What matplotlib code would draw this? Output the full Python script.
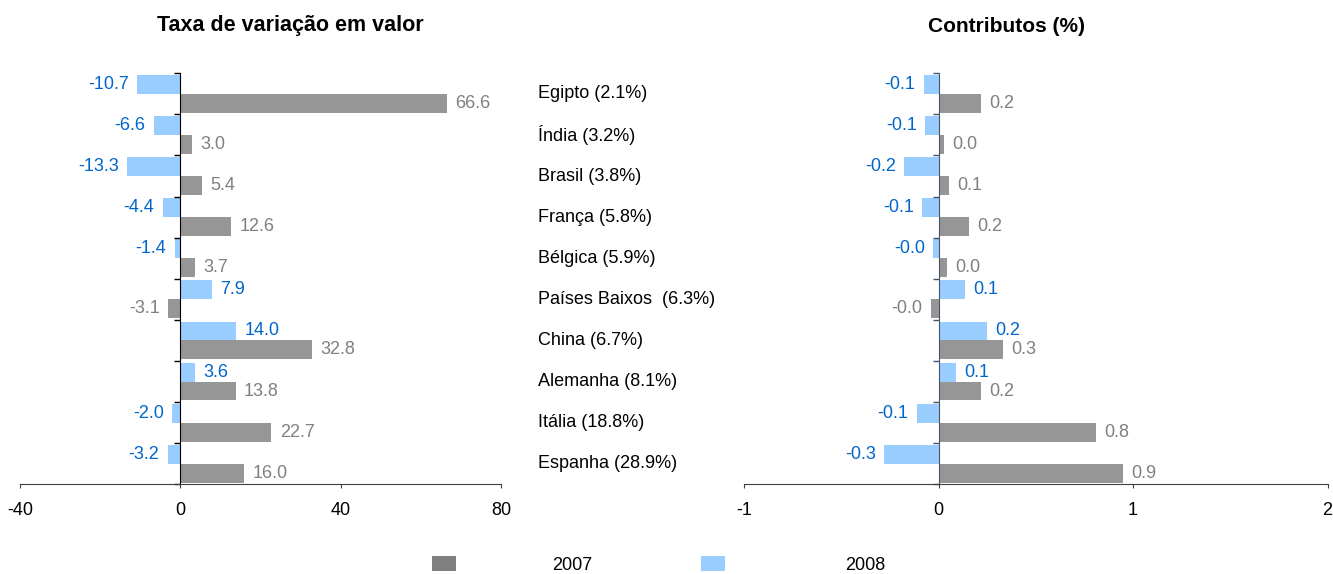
import numpy as np
import matplotlib
matplotlib.use("Agg")
import matplotlib.pyplot as plt
from matplotlib.transforms import blended_transform_factory

plt.rcParams['font.family'] = ['Liberation Sans', 'DejaVu Sans']

categories = ["Egipto (2.1%)", "Índia (3.2%)", "Brasil (3.8%)", "França (5.8%)",
              "Bélgica (5.9%)", "Países Baixos  (6.3%)", "China (6.7%)",
              "Alemanha (8.1%)", "Itália (18.8%)", "Espanha (28.9%)"]
taxa_2007 = [66.6, 3.0, 5.4, 12.6, 3.7, -3.1, 32.8, 13.8, 22.7, 16.0]
taxa_2008 = [-10.7, -6.6, -13.3, -4.4, -1.4, 7.9, 14.0, 3.6, -2.0, -3.2]
contrib_2007 = [0.22, 0.026, 0.056, 0.158, 0.045, -0.04, 0.333, 0.22, 0.81, 0.947]
contrib_2008 = [-0.077, -0.067, -0.175, -0.083, -0.027, 0.138, 0.247, 0.088, -0.113, -0.278]
left_ticks = [-40, 0, 40, 80]
right_ticks = [-1, 0, 1, 2]
series_names = ["2007", "2008"]

C07 = "#969696"
C08 = "#99CCFF"
T07 = "#808080"
T08 = "#0066CC"
FS = 13

W, H = 1333, 574
fig = plt.figure(figsize=(W / 100, H / 100), dpi=100)

bottom = (H - 484.3) / H
height = (484.3 - 73.3) / H
ax1 = fig.add_axes([20 / W, bottom, 481 / W, height])
ax2 = fig.add_axes([744.0 / W, bottom, 583.5 / W, height])

n = len(categories)
y = np.arange(n)
bh = 0.46


def draw(ax, v07, v08, xticks, spine_color):
    b07 = ax.barh(y + bh / 2, v07, height=bh, color=C07, label=series_names[0])
    b08 = ax.barh(y - bh / 2, v08, height=bh, color=C08, label=series_names[1])
    for bars, vals, col in ((b07, v07, T07), (b08, v08, T08)):
        for rect, v in zip(bars, vals):
            cy = rect.get_y() + rect.get_height() / 2
            if v >= 0:
                ax.annotate(f"{v:.1f}", (v, cy), xytext=(6, 0), textcoords="offset points",
                            ha="left", va="center", color=col, fontsize=FS)
            else:
                ax.annotate(f"{v:.1f}", (v, cy), xytext=(-6, 0), textcoords="offset points",
                            ha="right", va="center", color=col, fontsize=FS)
    ax.set_xlim(xticks[0], xticks[-1])
    ax.set_ylim(n - 0.5, -0.5)
    ax.set_xticks(xticks)
    ax.set_xticklabels([str(t) for t in xticks], fontsize=FS)
    ax.set_yticks(np.arange(n + 1) - 0.5)
    ax.set_yticklabels([])
    ax.spines['top'].set_visible(False)
    ax.spines['right'].set_visible(False)
    ax.spines['left'].set_position(('data', 0))
    ax.spines['left'].set_color(spine_color)
    ax.spines['bottom'].set_color("#404040")
    ax.tick_params(axis='y', direction='out', length=4, color=spine_color, width=1)
    ax.tick_params(axis='x', direction='out', length=3, color="#404040", pad=10)
    ax.set_facecolor("none")
    return b07, b08


h07, h08 = draw(ax1, taxa_2007, taxa_2008, left_ticks, "black")
draw(ax2, contrib_2007, contrib_2008, right_ticks, "#44546A")

trans = blended_transform_factory(fig.transFigure, ax1.transData)
for i, c in enumerate(categories):
    ax1.text(538 / W, y[i], c, transform=trans, ha="left", va="center",
             fontsize=FS, color="black", clip_on=False)

fig.text(290.5 / W, 1 - 26 / H, "Taxa de variação em valor", ha="center", va="center",
         fontsize=15.5, fontweight="bold")
fig.text(1006 / W, 1 - 26 / H, "Contributos (%)", ha="center", va="center",
         fontsize=15, fontweight="bold")

common = dict(loc="center left", frameon=False, fontsize=FS, handlelength=1.33,
              handleheight=0.9, borderpad=0, borderaxespad=0)
leg1 = fig.legend([h07], [series_names[0]], bbox_to_anchor=(432 / W, 1 - 565 / H),
                  handletextpad=5.3, **common)
leg1.legend_handles[0].set_facecolor("#808080")
leg2 = fig.legend([h08], [series_names[1]], bbox_to_anchor=(701 / W, 1 - 565 / H),
                  handletextpad=6.65, **common)

fig.savefig("out.png", dpi=100)
